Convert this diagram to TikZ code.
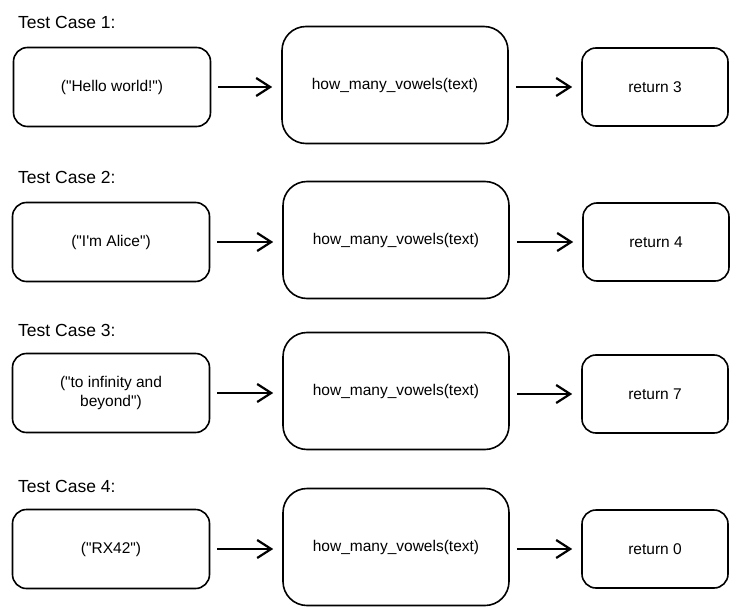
\documentclass[tikz,border=0pt]{standalone}
\usepackage{fontspec}
\setmainfont{Liberation Sans}[Ligatures=TeXOff]
\usetikzlibrary{arrows.meta}

\begin{document}
\begin{tikzpicture}[x=1pt,y=-1pt]
  \tikzset{TC/.style={anchor=west, inner sep=0pt, font=\fontsize{17.5}{20}\selectfont}}
  \tikzset{IN/.style={draw, line width=1.6pt, rounded corners=14pt, minimum width=197pt, minimum height=79pt, align=center, font=\fontsize{15.5}{19}\selectfont}}
  \tikzset{FN/.style={draw, line width=1.6pt, rounded corners=24pt, minimum width=226pt, minimum height=117pt, font=\fontsize{15.5}{19}\selectfont}}
  \tikzset{OUT/.style={draw, line width=1.6pt, rounded corners=14pt, minimum width=146pt, minimum height=78pt, font=\fontsize{15.5}{19}\selectfont}}
  \tikzset{AR/.style={line width=2.8pt, -{Straight Barb[length=14pt,width=18pt,line width=2.2pt]}, shorten <=7pt, shorten >=9pt}}
  \useasboundingbox (0,0) rectangle (744,615);

  \node [TC]  (t1)   at (18,22)   {Test Case 1:};
  \node [IN]  (in1)  at (112,87)  {("Hello world!")};
  \node [FN]  (fn1)  at (395,85)  {how\_many\_vowels(text)};
  \node [OUT] (out1) at (655,87)  {return 3};

  \node [TC]  (t2)   at (18,177)  {Test Case 2:};
  \node [IN]  (in2)  at (111,242) {("I'm Alice")};
  \node [FN]  (fn2)  at (396,240) {how\_many\_vowels(text)};
  \node [OUT] (out2) at (656,242) {return 4};

  \node [TC]  (t3)   at (18,330)  {Test Case 3:};
  \node [IN]  (in3)  at (111,393) {("to infinity and\\ beyond")};
  \node [FN]  (fn3)  at (396,391) {how\_many\_vowels(text)};
  \node [OUT] (out3) at (655,394) {return 7};

  \node [TC]  (t4)   at (18,486)  {Test Case 4:};
  \node [IN]  (in4)  at (111,549) {("RX42")};
  \node [FN]  (fn4)  at (396,547) {how\_many\_vowels(text)};
  \node [OUT] (out4) at (655,549) {return 0};

  \foreach \from/\to in {in1/fn1,in2/fn2,in3/fn3,in4/fn4}
    \draw[AR] (\from) -- (\from -| \to.west);
  \foreach \from/\to in {fn1/out1,fn2/out2,fn3/out3,fn4/out4}
    \draw[AR] (\from.east |- \to) -- (\to);
\end{tikzpicture}
\end{document}
